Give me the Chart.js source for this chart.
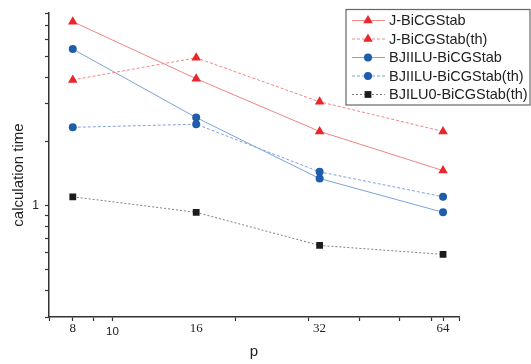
<!DOCTYPE html>
<html>
<head>
<meta charset="utf-8">
<script src="https://cdn.jsdelivr.net/npm/chart.js@4/dist/chart.umd.min.js"></script>
<style>
  html, body { margin: 0; background: #fff; }
  canvas { display: block; }
</style>
</head>
<body>
<canvas id="c" width="531" height="364"></canvas>
<script>
// values
const pValues = [8, 16, 32, 64];
const jBicg = [7.30, 3.94, 2.23, 1.46];
const jBicgTh = [3.89, 4.94, 3.07, 2.23];
const bjiiluBicg = [5.43, 2.59, 1.34, 0.93];
const bjiiluBicgTh = [2.33, 2.41, 1.44, 1.10];
const bjilu0BicgTh = [1.10, 0.93, 0.65, 0.59];

const seriesNames = ["J-BiCGStab", "J-BiCGStab(th)", "BJIILU-BiCGStab", "BJIILU-BiCGStab(th)", "BJILU0-BiCGStab(th)"];

const xTicks = [7, 8, 9, 10, 16, 20, 30, 32, 40, 50, 60, 64, 70];
const xTickLabels = { 8: "8", 10: "10", 16: "16", 32: "32", 64: "64" };
const yTicks = [0.3, 0.4, 0.5, 0.6, 0.7, 0.8, 0.9, 1, 2, 3, 4, 5, 6, 7, 8];
const yTickLabels = { 1: "1" };

const RED = "#e8262b", RED_LINE = "#f08585";
const BLUE = "#1f5cab", BLUE_LINE = "#7ea2d9";
const BLACK = "#1c1c1c", GRAY_LINE = "#808080";

const pts = vals => pValues.map((p, i) => ({ x: p, y: vals[i] }));

function series(label, vals, line, mark, dash, style, r){
  return {
    label, data: pts(vals),
    borderColor: line, borderWidth: 1, borderDash: dash,
    pointStyle: style, pointRadius: r, pointHoverRadius: r,
    pointBackgroundColor: mark, pointBorderColor: mark, pointBorderWidth: 0,
    tension: 0, fill: false
  };
}

const legendAndTitles = {
  id: "legendAndTitles",
  afterDraw(chart){
    const ctx = chart.ctx;
    ctx.save();
    ctx.fillStyle = "#fff";
    ctx.strokeStyle = "#666";
    ctx.lineWidth = 1.2;
    ctx.fillRect(346, 9.5, 184, 95.5);
    ctx.strokeRect(346, 9.5, 184, 95.5);
    chart.data.datasets.forEach((ds, i) => {
      const y = 20.5 + i * 18.5;
      ctx.strokeStyle = ds.borderColor;
      ctx.lineWidth = 1;
      ctx.setLineDash(ds.borderDash || []);
      ctx.beginPath(); ctx.moveTo(352, y); ctx.lineTo(385, y); ctx.stroke();
      ctx.setLineDash([]);
      ctx.fillStyle = ds.pointBackgroundColor;
      Chart.helpers.drawPoint(ctx, { pointStyle: ds.pointStyle, radius: ds.pointRadius, rotation: 0, borderWidth: 0 }, 368, y);
      ctx.fillStyle = "#222";
      ctx.font = "14.5px 'Liberation Sans'";
      ctx.textAlign = "left";
      ctx.textBaseline = "middle";
      ctx.fillText(ds.label, 389, y + 0.5);
    });
    // axis titles
    ctx.fillStyle = "#222";
    ctx.font = "15px 'Liberation Sans'";
    ctx.textAlign = "center";
    ctx.textBaseline = "middle";
    ctx.fillText("p", 254, 352);
    ctx.translate(18.5, 175);
    ctx.rotate(-Math.PI / 2);
    ctx.fillText("calculation time", 0, 0);
    ctx.restore();
  }
};

new Chart(document.getElementById("c"), {
  type: "line",
  data: {
    datasets: [
      series(seriesNames[0], jBicg, RED_LINE, RED, [], "triangle", 5.5),
      series(seriesNames[1], jBicgTh, RED_LINE, RED, [3, 2], "triangle", 5.5),
      series(seriesNames[2], bjiiluBicg, BLUE_LINE, BLUE, [], "circle", 4),
      series(seriesNames[3], bjiiluBicgTh, BLUE_LINE, BLUE, [3, 2], "circle", 4),
      series(seriesNames[4], bjilu0BicgTh, GRAY_LINE, BLACK, [2, 2], "rect", 4.8)
    ]
  },
  options: {
    responsive: false,
    devicePixelRatio: 1,
    animation: false,
    layout: { padding: { top: 13, right: 72, left: 0, bottom: 0 } },
    plugins: { legend: { display: false }, tooltip: { enabled: false } },
    scales: {
      x: {
        type: "logarithmic", min: 7, max: 70,
        afterBuildTicks: s => { s.ticks = xTicks.map(v => ({ value: v })); },
        afterFit: s => { s.height = 47; },
        border: { display: true, color: "#333", width: 1.5 },
        grid: {
          drawOnChartArea: false, drawTicks: true, tickLength: 4,
          tickColor: c => (c.tick && (c.tick.value === 16 || c.tick.value === 32)) ? "rgba(0,0,0,0)" : "#333",
          tickWidth: 1.2
        },
        ticks: {
          autoSkip: false, maxRotation: 0, padding: 0, color: "#222",
          callback: v => v === 10 ? ["", "10"] : (xTickLabels[v] || ""),
          font: c => (c.tick && c.tick.value === 10)
            ? { family: "'Liberation Sans'", size: 11.5, lineHeight: 0.6 }
            : { family: "'Liberation Serif'", size: 13 }
        }
      },
      y: {
        type: "logarithmic", min: 0.3, max: 8,
        afterBuildTicks: s => { s.ticks = yTicks.map(v => ({ value: v })); },
        afterFit: s => { s.width = 49; },
        border: { display: true, color: "#333", width: 1.5 },
        grid: { drawOnChartArea: false, drawTicks: true, tickLength: 4, tickColor: "#333", tickWidth: 1.2 },
        ticks: {
          autoSkip: false, padding: 6, color: "#222",
          callback: v => yTickLabels[v] || "",
          font: { family: "'Liberation Sans'", size: 12 }
        }
      }
    }
  },
  plugins: [legendAndTitles]
});
</script>
</body>
</html>
